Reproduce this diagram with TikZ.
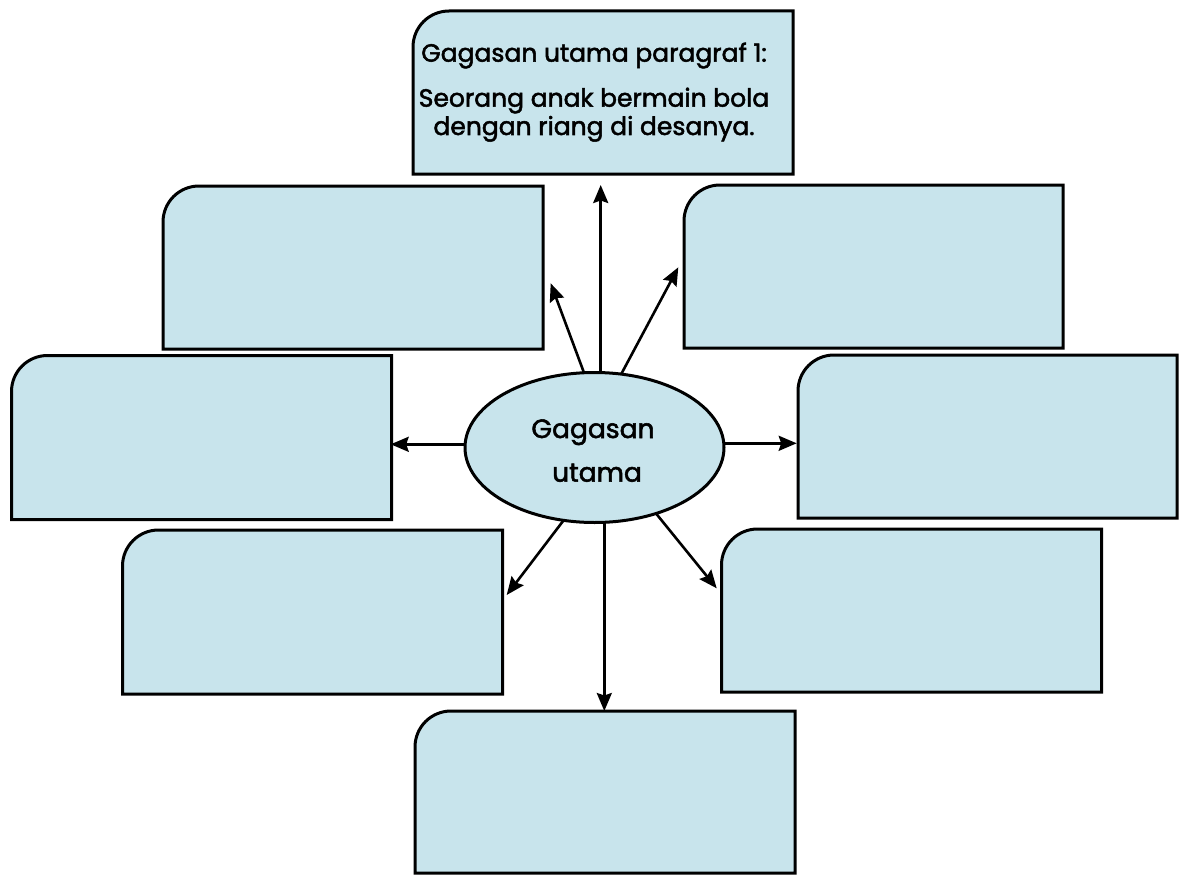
\documentclass[tikz,border=0pt]{standalone}
\usepackage{fontspec}
\setmainfont{Poppins}[FakeBold=2]
\usetikzlibrary{arrows.meta,shapes.geometric}
\definecolor{boxfill}{RGB}{200,228,236}
\tikzset{
  boxnode/.style={rectangle, draw=none, inner sep=0pt, outer sep=0pt},
  boxline/.style={draw=black, fill=boxfill, line width=3pt, line join=miter},
  ellnode/.style={ellipse, draw=black, fill=boxfill, line width=3pt, inner sep=0pt, outer sep=0pt,
                  minimum width=259pt, minimum height=150pt},
  arr/.style={draw=black, line width=2.6pt, -{Stealth[length=18pt,width=15pt,inset=2.5pt]}},
  txt/.style={anchor=base, inner sep=0pt, font=\fontsize{25}{30}\selectfont},
  etxt/.style={anchor=base, inner sep=0pt, font=\fontsize{26.5}{31}\selectfont},
}
\newcommand\leafbox[1]{\draw[boxline] (#1.south west) -- ([yshift=-36pt]#1.north west)
  arc[start angle=180, end angle=90, radius=36pt] -- (#1.north east) -- (#1.south east) -- cycle;}
\begin{document}
\begin{tikzpicture}[x=1pt,y=-1pt]
\useasboundingbox (0,0) rectangle (1179,875);
% boxes: centre (cx,cy), width, height
\node[boxnode, minimum width=380pt, minimum height=163pt] (b0) at (603,92.5) {};
\node[boxnode, minimum width=380pt, minimum height=163pt] (b1) at (353,267.5) {};
\node[boxnode, minimum width=379pt, minimum height=163pt] (b2) at (873.5,266.5) {};
\node[boxnode, minimum width=380pt, minimum height=164pt] (b3) at (201.5,437.5) {};
\node[boxnode, minimum width=379pt, minimum height=163pt] (b4) at (987.5,436.5) {};
\node[boxnode, minimum width=380pt, minimum height=164pt] (b5) at (312.5,612) {};
\node[boxnode, minimum width=380pt, minimum height=163pt] (b6) at (911.5,610.5) {};
\node[boxnode, minimum width=380pt, minimum height=162pt] (b7) at (605,792) {};
\leafbox{b0}\leafbox{b1}\leafbox{b2}\leafbox{b3}\leafbox{b4}\leafbox{b5}\leafbox{b6}\leafbox{b7}
% text of the top box
\node[txt] (t1) at (594,61.7) {Gagasan utama paragraf 1:};
\node[txt] (t2) at (594,106.7) {Seorang anak bermain bola};
\node[txt] (t3) at (594,135) {dengan riang di desanya.};
% central ellipse
\node[ellnode] (e) at (594.5,447.5) {};
\node[etxt] (e1) at (593,438) {Gagasan};
\node[etxt] (e2) at (597,481.7) {utama};
% arrow tips
\coordinate (tU) at (600.7,185);
\coordinate (tUL) at (550.7,283.3);
\coordinate (tUR) at (678.3,267.3);
\coordinate (tL) at (390.7,444.3);
\coordinate (tR) at (796.7,443.3);
\coordinate (tLL) at (506.7,595);
\coordinate (tD) at (604.3,711);
\coordinate (tLR) at (716.7,588.3);
\draw[arr] (tU |- e.north) -- (tU);
\draw[arr] (e.98.7) -- (tUL);
\draw[arr] (e.70.7) -- (tUR);
\draw[arr] (tL -| e.west) -- (tL);
\draw[arr] (tR -| e.east) -- (tR);
\draw[arr] (e.247.6) -- (tLL);
\draw[arr] (tD |- e.south) -- (tD);
\draw[arr] (e.313.8) -- (tLR);
\end{tikzpicture}
\end{document}
